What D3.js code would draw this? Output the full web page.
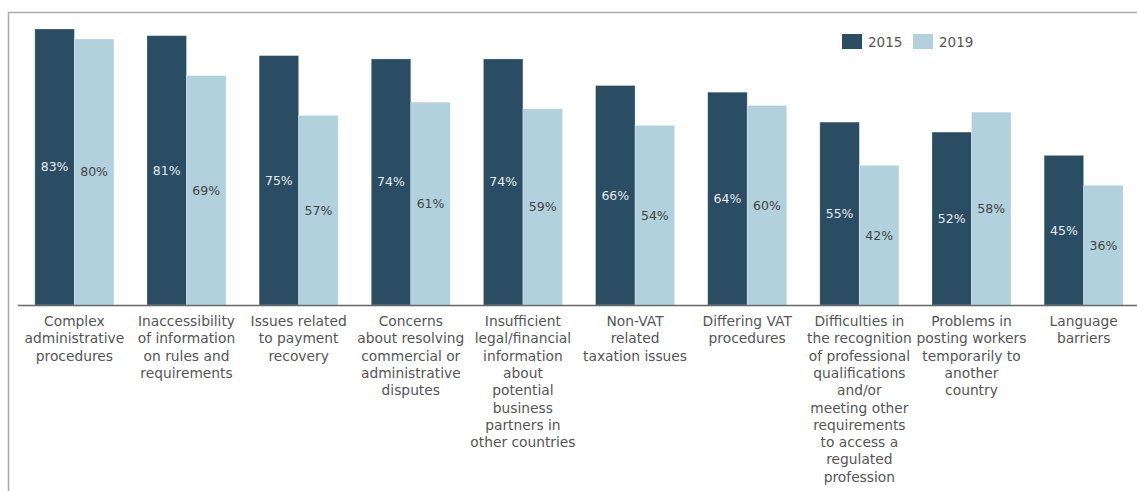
<!DOCTYPE html>
<html>
<head>
<meta charset="utf-8">
<script src="https://cdn.jsdelivr.net/npm/d3@7/dist/d3.min.js"></script>
<style>
  html, body { margin: 0; padding: 0; background: #fff; }
  svg { display: block; }
  text { font-family: "DejaVu Sans", "Lato", sans-serif; }
</style>
</head>
<body>
<svg id="chart" width="1137" height="491"></svg>
<script>
// Obstacles to doing business across borders, share of respondents
const categories = [
  ["Complex", "administrative", "procedures"],
  ["Inaccessibility", "of information", "on rules and", "requirements"],
  ["Issues related", "to payment", "recovery"],
  ["Concerns", "about resolving", "commercial or", "administrative", "disputes"],
  ["Insufficient", "legal/financial", "information", "about", "potential", "business", "partners in", "other countries"],
  ["Non-VAT", "related", "taxation issues"],
  ["Differing VAT", "procedures"],
  ["Difficulties in", "the recognition", "of professional", "qualifications", "and/or", "meeting other", "requirements", "to access  a", "regulated", "profession"],
  ["Problems in", "posting workers", "temporarily to", "another", "country"],
  ["Language", "barriers"]
];
const seriesNames = ["2015", "2019"];
const values2015 = [83, 81, 75, 74, 74, 66, 64, 55, 52, 45];
const values2019 = [80, 69, 57, 61, 59, 54, 60, 42, 58, 36];
const colors = ["#2b4d63", "#b1d1dc"];
const labelColors = ["#e4ebf0", "#444444"];

const svg = d3.select("#chart");
const baseY = 305;

// Outer frame (top and left edges)
svg.append("path")
  .attr("d", "M8.5,491 V12.5 H1137")
  .attr("fill", "none")
  .attr("stroke", "#ababab")
  .attr("stroke-width", 1.5);

const keys = categories.map((c, i) => i);
const x0 = d3.scaleBand().domain(keys).range([18, 1140]).paddingInner(0.295).paddingOuter(0.15);
const x1 = d3.scaleBand().domain(seriesNames).range([0, x0.bandwidth()]);
const y = d3.scaleLinear().domain([0, 83]).range([baseY, 29]);

const rows = keys.map(i => ({ i, vals: [values2015[i], values2019[i]] }));

const groups = svg.append("g").selectAll("g")
  .data(rows).join("g")
  .attr("transform", d => `translate(${x0(d.i)},0)`);

groups.selectAll("rect")
  .data(d => d.vals.map((v, s) => ({ v, s })))
  .join("rect")
  .attr("x", d => x1(seriesNames[d.s]))
  .attr("y", d => y(d.v))
  .attr("width", x1.bandwidth())
  .attr("height", d => baseY - y(d.v))
  .attr("fill", d => colors[d.s])
  .attr("stroke", "rgba(255,255,255,0.35)")
  .attr("stroke-width", 0.8);

groups.selectAll("text.val")
  .data(d => d.vals.map((v, s) => ({ v, s })))
  .join("text")
  .attr("class", "val")
  .attr("x", d => x1(seriesNames[d.s]) + x1.bandwidth() / 2)
  .attr("y", d => (y(d.v) + baseY) / 2)
  .attr("dy", "0.35em")
  .attr("text-anchor", "middle")
  .attr("font-size", 12.5)
  .attr("fill", d => labelColors[d.s])
  .text(d => d.v + "%");

// Baseline axis
svg.append("line")
  .attr("x1", 18).attr("x2", 1137)
  .attr("y1", baseY + 0.5).attr("y2", baseY + 0.5)
  .attr("stroke", "#666")
  .attr("stroke-width", 1.5);

// Category labels
const catLabels = svg.append("g").selectAll("text")
  .data(rows).join("text")
  .attr("x", d => x0(d.i) + x0.bandwidth() / 2)
  .attr("y", 326)
  .attr("text-anchor", "middle")
  .attr("font-size", 13.8)
  .attr("fill", "#555");
catLabels.selectAll("tspan")
  .data(d => categories[d.i].map(t => ({ t, cx: x0(d.i) + x0.bandwidth() / 2 })))
  .join("tspan")
  .attr("x", d => d.cx)
  .attr("dy", (d, j) => j === 0 ? 0 : 17.3)
  .text(d => d.t);

// Legend
const legend = svg.append("g").attr("transform", "translate(842,34)");
seriesNames.forEach((name, s) => {
  const g = legend.append("g").attr("transform", `translate(${s * 71},0)`);
  g.append("rect").attr("width", 20).attr("height", 15).attr("fill", colors[s]);
  g.append("text").attr("x", 26).attr("y", 8).attr("dy", "0.35em")
    .attr("font-size", 13.5).attr("fill", "#555").text(name);
});
</script>
</body>
</html>
